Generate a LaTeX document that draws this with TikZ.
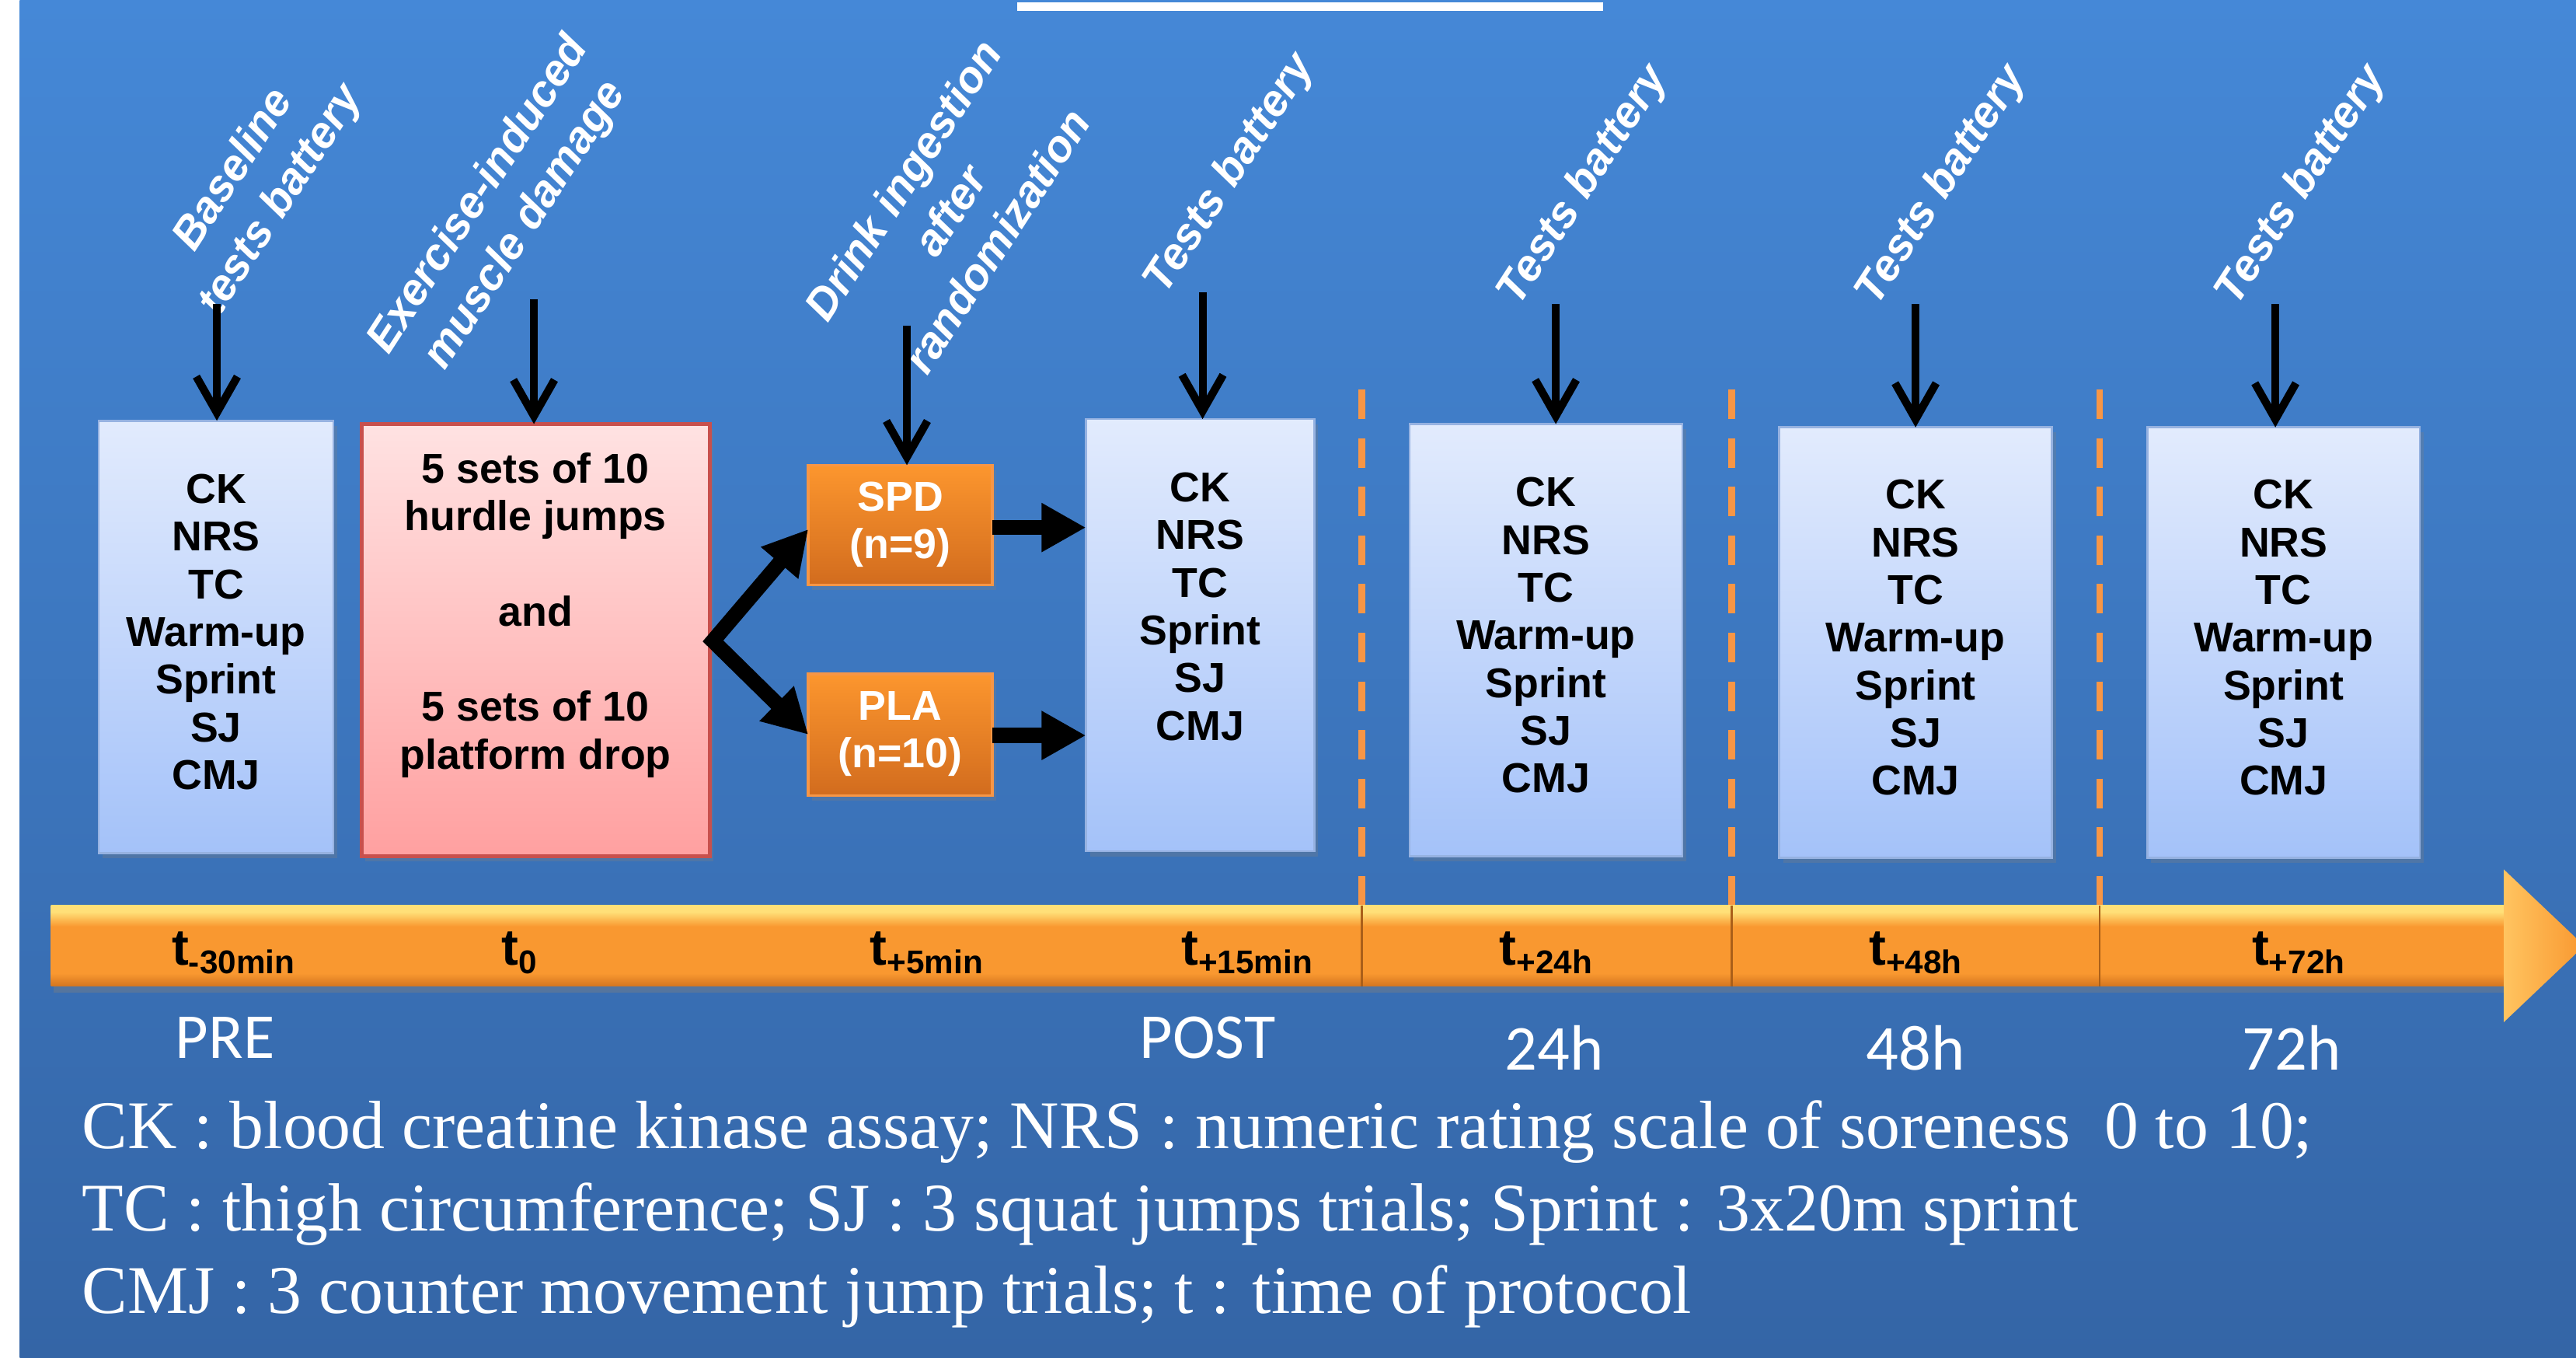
\documentclass[tikz,border=0pt]{standalone}
\usepackage{fontspec}
\setmainfont{Liberation Sans}
\newfontfamily\footfont{Liberation Serif}
\newfontfamily\calfont{Carlito}
\usetikzlibrary{arrows.meta,shadows,calc}
\definecolor{bgtop}{RGB}{69,136,215}
\definecolor{bgbot}{RGB}{52,101,166}
\definecolor{bluetop}{RGB}{226,235,253}
\definecolor{bluebot}{RGB}{164,194,249}
\definecolor{blueedge}{RGB}{150,178,225}
\definecolor{redtop}{RGB}{255,226,226}
\definecolor{redbot}{RGB}{255,160,160}
\definecolor{rededge}{RGB}{200,80,77}
\definecolor{orgtop}{RGB}{252,150,46}
\definecolor{orgbot}{RGB}{210,108,30}
\definecolor{orgedge}{RGB}{247,150,70}
\definecolor{dashorange}{RGB}{247,150,70}
\definecolor{barhi}{RGB}{255,224,120}
\definecolor{barmid}{RGB}{249,152,48}
\definecolor{barlow}{RGB}{212,118,32}
\definecolor{sepcol}{RGB}{170,95,25}
\pgfdeclareverticalshading{barshade}{100bp}{color(0bp)=(barlow); color(25bp)=(barlow); color(33bp)=(barmid); color(62bp)=(barmid); color(71bp)=(barhi); color(75bp)=(barhi); color(100bp)=(barhi)}
\newcommand{\lines}[1]{\begin{tabular}{@{}c@{}}#1\end{tabular}}
\newcommand{\tsub}[1]{t\raisebox{-2.8pt}{\fontsize{10}{10}\selectfont #1}}
\begin{document}
\begin{tikzpicture}[x=0.5pt,y=-0.5pt,
  every node/.style={inner sep=0pt, outer sep=0pt},
  boxfont/.style={font=\fontsize{12.7}{14.5}\selectfont\bfseries},
  testbox/.style={boxfont, draw=blueedge, line width=0.6pt, top color=bluetop, bottom color=bluebot,
     drop shadow={opacity=0.3,shadow xshift=1.2pt,shadow yshift=-1.6pt}},
  dmgbox/.style={boxfont, draw=rededge, line width=1.2pt, top color=redtop, bottom color=redbot,
     drop shadow={opacity=0.3,shadow xshift=1.2pt,shadow yshift=-1.6pt}},
  drinkbox/.style={boxfont, text=white, draw=orgedge, line width=0.8pt, top color=orgtop, bottom color=orgbot,
     drop shadow={opacity=0.3,shadow xshift=1.2pt,shadow yshift=-1.6pt}},
  lab/.style={text=white, font=\fontsize{13.5}{17}\selectfont\bfseries\itshape, rotate=57, align=center},
  thinarrow/.style={line width=2.4pt, -{Straight Barb[length=11pt,width=12.5pt]}},
  thickarrow/.style={line width=4.6pt, line join=miter, -{Triangle[length=13.5pt,width=14pt]}},
  dashline/.style={draw=dashorange, line width=2pt, dash pattern=on 9pt off 5.8pt},
  tfont/.style={font=\fontsize{15.5}{16}\selectfont\bfseries, text=black},
  phase/.style={font=\calfont\fontsize{19.5}{20}\selectfont, text=white},
  foot/.style={font=\footfont\fontsize{20.75}{22}\selectfont, text=white}
]
\useasboundingbox (0,0) rectangle (1568,826);
\fill[white] (0,0) rectangle (1568,826);
\shade[top color=bgtop,bottom color=bgbot] (12,0) rectangle (1568,826);
\fill[white] (619,1.5) rectangle (976,6.5);

% dashed separators
\draw[dashline] (829,237) -- (829,553);
\draw[dashline] (1054,237) -- (1054,553);
\draw[dashline] (1278,237) -- (1278,553);

% timeline bar
\path[shading=barshade, drop shadow={opacity=0.4,shadow xshift=0.8pt,shadow yshift=-2pt}] (31,551) rectangle (1526,600);
\path[left color={rgb,255:red,255;green,196;blue,96}, right color=barmid] (1524,529) -- (1573,575.5) -- (1524,622) -- cycle;
\draw[sepcol, line width=0.6pt] (829,551) -- (829,600);
\draw[sepcol, line width=0.6pt] (1054,551) -- (1054,600);
\draw[sepcol, line width=0.6pt] (1278,551) -- (1278,600);

% boxes
\node[testbox, minimum width=71.5pt, minimum height=131.5pt] (b1) at (131.5,387.5)
  {\lines{CK\\NRS\\TC\\Warm-up\\Sprint\\SJ\\CMJ}};
\node[dmgbox, minimum width=106pt, minimum height=131.5pt] (red) at (326,389.5)
  {\lines{5 sets of 10\\hurdle jumps\\ \mbox{}\\and\\ \mbox{}\\5 sets of 10\\platform drop\\ \mbox{}}};
\node[drinkbox, minimum width=56pt, minimum height=36.5pt] (spd) at (548,319.5)
  {\lines{SPD\\(n=9)}};
\node[drinkbox, minimum width=56pt, minimum height=37pt] (pla) at (548,447)
  {\lines{PLA\\(n=10)}};
\node[testbox, minimum width=69.5pt, minimum height=131.5pt] (post) at (730.5,386.5)
  {\lines{CK\\NRS\\TC\\Sprint\\SJ\\CMJ\\ \mbox{}}};
\node[testbox, minimum width=83pt, minimum height=131.5pt] (b24) at (941,389.5)
  {\lines{CK\\NRS\\TC\\Warm-up\\Sprint\\SJ\\CMJ}};
\node[testbox, minimum width=83pt, minimum height=131pt] (b48) at (1166,391)
  {\lines{CK\\NRS\\TC\\Warm-up\\Sprint\\SJ\\CMJ}};
\node[testbox, minimum width=83pt, minimum height=131pt] (b72) at (1390,391)
  {\lines{CK\\NRS\\TC\\Warm-up\\Sprint\\SJ\\CMJ}};

% rotated labels
\node[lab] (l1) at (157,113) {Baseline\\tests battery};
\node[lab] (l2) at (306,128) {Exercise-induced\\muscle damage};
\node[lab] (l3) at (578,128) {Drink ingestion\\after\\randomization};
\node[lab] (l4) at (749,106) {Tests battery};
\node[lab] (l5) at (964,113) {Tests battery};
\node[lab] (l6) at (1182,113) {Tests battery};
\node[lab] (l7) at (1401,113) {Tests battery};

% thin arrows
\coordinate (s1) at (132,185);
\coordinate (s2) at (325,182);
\coordinate (s3) at (552,198);
\coordinate (s4) at (732,178);
\coordinate (s5) at (947,185);
\coordinate (s6) at (1166,185);
\coordinate (s7) at (1385,185);
\draw[thinarrow] (s1) -- (s1 |- b1.north);
\draw[thinarrow] (s2) -- (s2 |- red.north);
\draw[thinarrow] (s3) -- (s3 |- spd.north);
\draw[thinarrow] (s4) -- (s4 |- post.north);
\draw[thinarrow] (s5) -- (s5 |- b24.north);
\draw[thinarrow] (s6) -- (s6 |- b48.north);
\draw[thinarrow] (s7) -- (s7 |- b72.north);

% thick arrows
\coordinate (jn) at (434,390);
\coordinate (spdin) at ($(spd.west)+(0,2.5)$);
\coordinate (spdout) at ($(spd.east)+(0,1.5)$);
\coordinate (plaout) at ($(pla.east)+(0,0.5)$);
\draw[thickarrow, {Triangle[length=13.5pt,width=14pt]}-{Triangle[length=13.5pt,width=14pt]}] (spdin) -- (jn) -- (pla.west);
\draw[thickarrow] (spdout) -- (spdout -| post.west);
\draw[thickarrow] (plaout) -- (plaout -| post.west);

% timeline labels
\node[tfont, anchor=base] (t1) at (142,587) {\tsub{-30min}};
\node[tfont, anchor=base] (t2) at (316,587) {\tsub{0}};
\node[tfont, anchor=base] (t3) at (564,587) {\tsub{+5min}};
\node[tfont, anchor=base] (t4) at (759,587) {\tsub{+15min}};
\node[tfont, anchor=base] (t5) at (941,587) {\tsub{+24h}};
\node[tfont, anchor=base] (t6) at (1166,587) {\tsub{+48h}};
\node[tfont, anchor=base] (t7) at (1399,587) {\tsub{+72h}};

% phases
\node[phase, anchor=base] (p1) at (137,644) {PRE};
\node[phase, anchor=base] (p2) at (735,644) {POST};
\node[phase, anchor=base] (p3) at (946,651) {24h};
\node[phase, anchor=base] (p4) at (1166,651) {48h};
\node[phase, anchor=base] (p5) at (1395,651) {72h};

% footnote
\node[foot, anchor=base west] (f1) at (50,699) {CK : blood creatine kinase assay; NRS : numeric rating scale of soreness \ 0 to 10;};
\node[foot, anchor=base west] (f2) at (50,749) {TC : thigh circumference; SJ : 3 squat jumps trials; Sprint : 3x20m sprint};
\node[foot, anchor=base west] (f3) at (50,799) {CMJ : 3 counter movement jump trials; t : time of protocol};
\end{tikzpicture}
\end{document}
